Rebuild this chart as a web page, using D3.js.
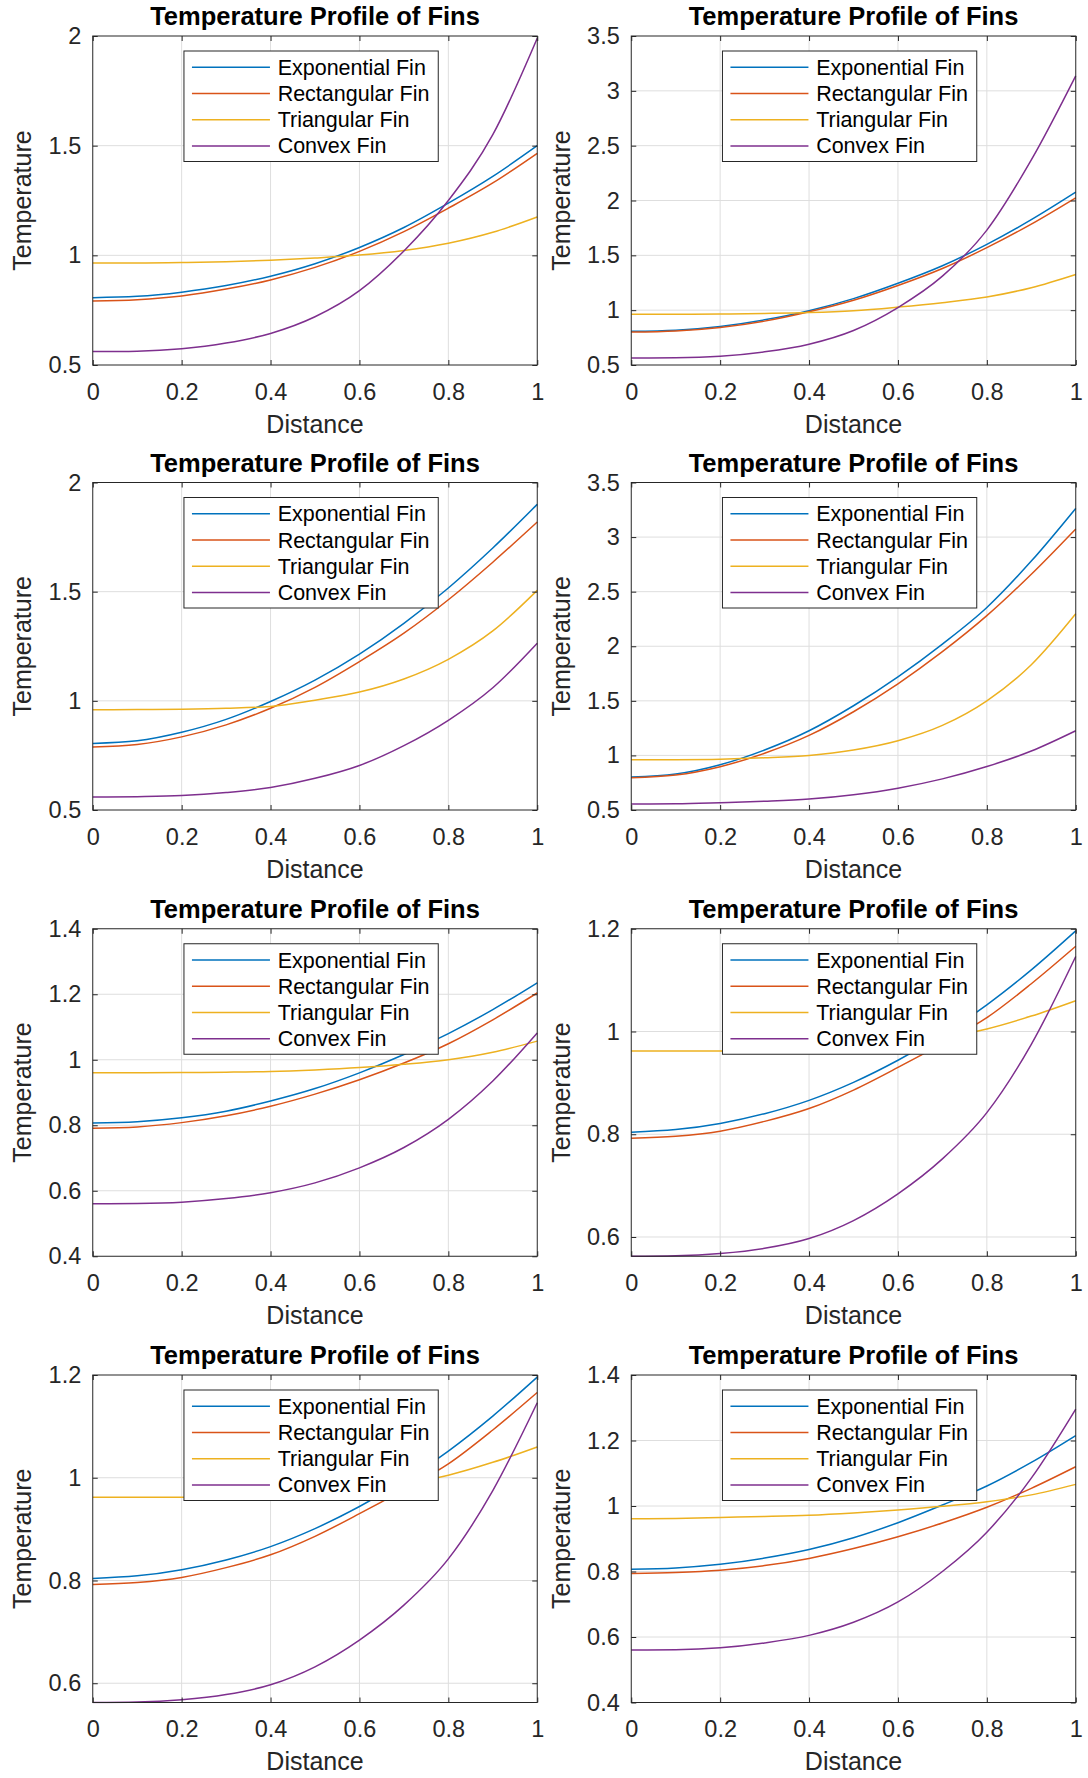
<!DOCTYPE html>
<html>
<head>
<meta charset="utf-8">
<script src="https://cdn.jsdelivr.net/npm/d3@7"></script>
<style>
  body { margin: 0; background: #fff; }
  svg text { font-family: "Liberation Sans", Arial, Helvetica, sans-serif; }
</style>
</head>
<body>
<div id="chart"></div>
<script>
var width = 1088,
    height = 1778;

var distance = [0, 0.1, 0.2, 0.3, 0.4, 0.5, 0.6, 0.7, 0.8, 0.9, 1];
var finNames = ["Exponential Fin", "Rectangular Fin", "Triangular Fin", "Convex Fin"];
var finColors = ["#0072BD", "#D95319", "#EDB120", "#7E2F8E"];
var xTicks = [0, 0.2, 0.4, 0.6, 0.8, 1];

// panel 1 (top left)
var exp1  = [0.807, 0.813, 0.832, 0.862, 0.905, 0.962, 1.036, 1.127, 1.238, 1.36, 1.50];
var rect1 = [0.792, 0.798, 0.815, 0.846, 0.888, 0.945, 1.018, 1.108, 1.215, 1.33, 1.465];
var tri1  = [0.965, 0.965, 0.967, 0.971, 0.978, 0.988, 1.001, 1.022, 1.055, 1.105, 1.175];
var conv1 = [0.561, 0.563, 0.574, 0.60, 0.644, 0.72, 0.839, 1.02, 1.25, 1.55, 1.99];

// panel 2 (top right)
var exp2  = [0.808, 0.818, 0.852, 0.912, 0.995, 1.105, 1.245, 1.405, 1.60, 1.825, 2.076];
var rect2 = [0.80, 0.81, 0.842, 0.90, 0.985, 1.09, 1.225, 1.38, 1.57, 1.785, 2.025];
var tri2  = [0.963, 0.963, 0.965, 0.97, 0.978, 0.995, 1.028, 1.068, 1.12, 1.205, 1.326];
var conv2 = [0.564, 0.566, 0.58, 0.62, 0.69, 0.815, 1.024, 1.31, 1.73, 2.37, 3.137];

// panel 3
var exp3  = [0.805, 0.817, 0.856, 0.915, 0.997, 1.095, 1.214, 1.355, 1.517, 1.70, 1.90];
var rect3 = [0.788, 0.80, 0.835, 0.89, 0.966, 1.062, 1.18, 1.31, 1.463, 1.635, 1.819];
var tri3  = [0.959, 0.96, 0.962, 0.966, 0.974, 1.003, 1.04, 1.1, 1.19, 1.32, 1.506];
var conv3 = [0.559, 0.561, 0.566, 0.58, 0.603, 0.645, 0.704, 0.795, 0.911, 1.06, 1.264];

// panel 4
var exp4  = [0.803, 0.83, 0.915, 1.05, 1.226, 1.455, 1.72, 2.02, 2.355, 2.78, 3.263];
var rect4 = [0.795, 0.82, 0.897, 1.02, 1.183, 1.40, 1.656, 1.95, 2.28, 2.66, 3.075];
var tri4  = [0.96, 0.961, 0.965, 0.978, 1.0, 1.05, 1.135, 1.275, 1.50, 1.83, 2.297];
var conv4 = [0.555, 0.557, 0.567, 0.58, 0.60, 0.64, 0.70, 0.785, 0.898, 1.04, 1.226];

// panel 5
var exp5  = [0.807, 0.811, 0.823, 0.843, 0.874, 0.912, 0.96, 1.016, 1.08, 1.153, 1.235];
var rect5 = [0.791, 0.795, 0.808, 0.829, 0.858, 0.895, 0.939, 0.99, 1.049, 1.122, 1.204];
var tri5  = [0.96, 0.96, 0.961, 0.962, 0.964, 0.969, 0.976, 0.986, 1.0, 1.023, 1.057];
var conv5 = [0.56, 0.561, 0.565, 0.576, 0.594, 0.624, 0.67, 0.732, 0.818, 0.935, 1.082];

// panels 6 and 7 show the same run
var exp6  = [0.804, 0.809, 0.821, 0.84, 0.866, 0.901, 0.944, 0.994, 1.052, 1.12, 1.196];
var rect6 = [0.792, 0.796, 0.806, 0.825, 0.85, 0.886, 0.93, 0.977, 1.027, 1.093, 1.166];
var tri6  = [0.962, 0.962, 0.962, 0.963, 0.965, 0.969, 0.976, 0.988, 1.005, 1.03, 1.06];
var conv6 = [0.5625, 0.5635, 0.568, 0.578, 0.597, 0.632, 0.684, 0.752, 0.842, 0.975, 1.146];

// panel 8
var exp8  = [0.807, 0.811, 0.822, 0.841, 0.867, 0.903, 0.949, 1.003, 1.061, 1.133, 1.215];
var rect8 = [0.794, 0.797, 0.804, 0.818, 0.84, 0.87, 0.906, 0.948, 0.996, 1.054, 1.12];
var tri8  = [0.961, 0.962, 0.965, 0.968, 0.972, 0.979, 0.988, 0.999, 1.013, 1.034, 1.066];
var conv8 = [0.56, 0.561, 0.567, 0.582, 0.605, 0.645, 0.707, 0.80, 0.92, 1.085, 1.296];

var ticksA = [0.5, 1, 1.5, 2],
    ticksB = [0.5, 1, 1.5, 2, 2.5, 3, 3.5],
    ticksC = [0.4, 0.6, 0.8, 1, 1.2, 1.4],
    ticksD = [0.6, 0.8, 1, 1.2];

var panels = [
  {row: 0, col: 0, y: [0.5, 2],      ticks: ticksA, series: [exp1, rect1, tri1, conv1]},
  {row: 0, col: 1, y: [0.5, 3.5],    ticks: ticksB, series: [exp2, rect2, tri2, conv2]},
  {row: 1, col: 0, y: [0.5, 2],      ticks: ticksA, series: [exp3, rect3, tri3, conv3]},
  {row: 1, col: 1, y: [0.5, 3.5],    ticks: ticksB, series: [exp4, rect4, tri4, conv4]},
  {row: 2, col: 0, y: [0.4, 1.4],    ticks: ticksC, series: [exp5, rect5, tri5, conv5]},
  {row: 2, col: 1, y: [0.5625, 1.2], ticks: ticksD, series: [exp6, rect6, tri6, conv6]},
  {row: 3, col: 0, y: [0.5625, 1.2], ticks: ticksD, series: [exp6, rect6, tri6, conv6]},
  {row: 3, col: 1, y: [0.4, 1.4],    ticks: ticksC, series: [exp8, rect8, tri8, conv8]}
];

var colLeft = [92.75, 631.25],
    rowTop = [36, 482.5, 928.75, 1375],
    rowH = [329, 327.5, 327.5, 327.5],
    w = 444.5;

var axisColor = "#262626",
    gridColor = "#dedede";

var fmt = function(d){ return String(+d.toFixed(4)); };

var svg = d3.select("#chart").append("svg")
    .attr("width", width)
    .attr("height", height);

panels.forEach(function(p, k){
  var left = colLeft[p.col],
      top = rowTop[p.row],
      h = rowH[p.row];

  var x = d3.scaleLinear().domain([0, 1]).range([0, w]);
  var y = d3.scaleLinear().domain(p.y).range([h, 0]);

  var g = svg.append("g")
      .attr("transform", "translate(" + left + "," + top + ")");

  g.append("rect")
      .attr("width", w)
      .attr("height", h)
      .attr("fill", "#fff");

  // grid
  g.append("g").selectAll("line").data(xTicks.slice(1, -1)).enter().append("line")
      .attr("x1", function(d){ return x(d); })
      .attr("x2", function(d){ return x(d); })
      .attr("y1", 0).attr("y2", h)
      .attr("stroke", gridColor);
  g.append("g").selectAll("line").data(p.ticks.filter(function(d){ return y(d) > 0.5 && y(d) < h - 0.5; })).enter().append("line")
      .attr("y1", function(d){ return y(d); })
      .attr("y2", function(d){ return y(d); })
      .attr("x1", 0).attr("x2", w)
      .attr("stroke", gridColor);

  g.append("clipPath").attr("id", "clip" + k)
    .append("rect").attr("x", -1).attr("y", -1).attr("width", w + 2).attr("height", h + 2);

  var line = d3.line()
      .x(function(d, i){ return x(distance[i]); })
      .y(function(d){ return y(d); })
      .curve(d3.curveMonotoneX);

  g.append("g").attr("clip-path", "url(#clip" + k + ")")
    .selectAll("path").data(p.series).enter().append("path")
      .attr("d", line)
      .attr("fill", "none")
      .attr("stroke", function(d, i){ return finColors[i]; })
      .attr("stroke-width", 1.5);

  // axes: ticks point inward like MATLAB
  var bottom = g.append("g").attr("transform", "translate(0," + h + ")")
      .call(d3.axisBottom(x).tickValues(xTicks).tickFormat(fmt).tickSizeInner(-5).tickSizeOuter(0).tickPadding(18));
  var leftAx = g.append("g")
      .call(d3.axisLeft(y).tickValues(p.ticks).tickFormat(fmt).tickSizeInner(-5).tickSizeOuter(0).tickPadding(11.5));
  var topAx = g.append("g")
      .call(d3.axisTop(x).tickValues(xTicks).tickFormat("").tickSizeInner(-5).tickSizeOuter(0));
  var rightAx = g.append("g").attr("transform", "translate(" + w + ",0)")
      .call(d3.axisRight(y).tickValues(p.ticks).tickFormat("").tickSizeInner(-5).tickSizeOuter(0));

  [bottom, leftAx, topAx, rightAx].forEach(function(a){
    a.select(".domain").remove();
    a.selectAll("line").attr("stroke", axisColor);
    a.selectAll("text")
        .attr("fill", axisColor)
        .style("font-size", "23.5px");
  });

  g.append("rect")
      .attr("width", w)
      .attr("height", h)
      .attr("fill", "none")
      .attr("stroke", axisColor)
      .attr("stroke-width", 1);

  // legend
  var lg = g.append("g").attr("transform", "translate(91.2,15)");
  lg.append("rect")
      .attr("width", 254.3)
      .attr("height", 110.5)
      .attr("fill", "#fff")
      .attr("stroke", axisColor)
      .attr("stroke-width", 1);
  var item = lg.selectAll(".item").data(finNames).enter().append("g")
      .attr("class", "item")
      .attr("transform", function(d, i){ return "translate(0," + (16.3 + i * 26.2) + ")"; });
  item.append("line")
      .attr("x1", 8).attr("x2", 86)
      .attr("stroke", function(d, i){ return finColors[i]; })
      .attr("stroke-width", 1.5);
  item.append("text")
      .attr("x", 93.7)
      .attr("dy", "0.35em")
      .attr("fill", "#000")
      .style("font-size", "21.5px")
      .text(function(d){ return d; });

  // labels
  g.append("text")
      .attr("x", w / 2)
      .attr("y", -11)
      .attr("text-anchor", "middle")
      .attr("fill", "#000")
      .style("font-size", "25.5px")
      .style("font-weight", "bold")
      .text("Temperature Profile of Fins");

  g.append("text")
      .attr("x", w / 2)
      .attr("y", h + 67.7)
      .attr("text-anchor", "middle")
      .attr("fill", axisColor)
      .style("font-size", "25px")
      .text("Distance");

  g.append("text")
      .attr("transform", "translate(-61.5," + (h / 2) + ") rotate(-90)")
      .attr("text-anchor", "middle")
      .attr("fill", axisColor)
      .style("font-size", "25px")
      .text("Temperature");
});
</script>
</body>
</html>
